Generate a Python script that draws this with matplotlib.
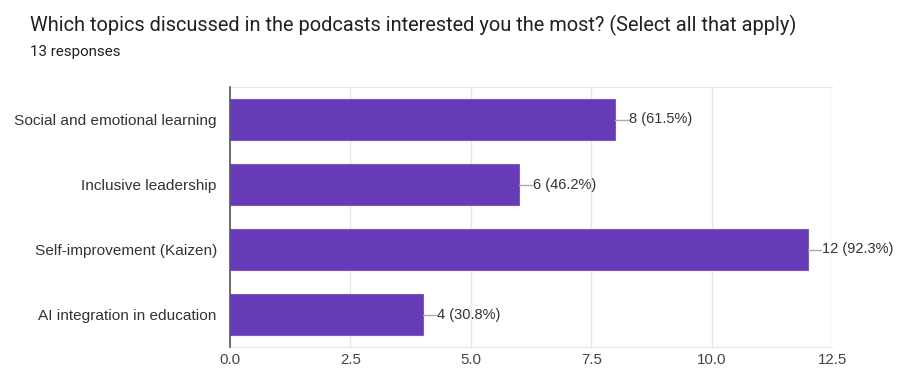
import matplotlib
matplotlib.use("Agg")
import matplotlib.pyplot as plt

categories = ["Social and emotional learning", "Inclusive leadership",
              "Self-improvement (Kaizen)", "AI integration in education"]
counts = [8, 6, 12, 4]
percents = ["61.5%", "46.2%", "92.3%", "30.8%"]
xticks = [0.0, 2.5, 5.0, 7.5, 10.0, 12.5]

plt.rcParams['font.family'] = ['Roboto', 'DejaVu Sans']
LF = ['Liberation Sans', 'DejaVu Sans']

fig = plt.figure(figsize=(8.97, 3.69), dpi=100)
ax = fig.add_axes([230/897, 1-347/369, (832-230)/897, (347-87)/369])

y = list(range(len(categories)))
ax.barh(y, counts, height=0.62, color="#673ab7", edgecolor="#7e57c2", linewidth=0.8, zorder=3)
for yi, c, p in zip(y, counts, percents):
    ax.plot([c, c + 0.28], [yi, yi], color="#aaaaaa", lw=1, zorder=3)
    ax.text(c + 0.29, yi, f"{c} ({p})", va="center", ha="left", fontsize=10.5,
            color="#333333", family=LF)

ax.set_ylim(3.5, -0.5)
ax.set_xlim(0, 12.5)
ax.set_yticks(y)
ax.set_yticklabels(categories, fontsize=11.1, color="#333333", family=LF)
ax.set_xticks(xticks)
ax.set_xticklabels([f"{t:.1f}" for t in xticks], fontsize=10.8, color="#444444", family=LF)
ax.tick_params(axis='x', length=0, pad=4)
ax.tick_params(axis='y', length=0, pad=9.5)
ax.grid(axis='x', color="#e6e6e6", lw=1, zorder=0)
for s in ['top', 'bottom']:
    ax.spines[s].set_color("#e6e6e6")
ax.spines['right'].set_visible(False)
ax.spines['left'].set_color("#555555")
ax.spines['left'].set_linewidth(1.2)
ax.spines['left'].set_zorder(4)

fig.text(30/897, 1-25/369, "Which topics discussed in the podcasts interested you the most? (Select all that apply)",
         fontsize=14.45, color="#202124", va="center", ha="left")
fig.text(30/897, 1-52/369, "13 responses", fontsize=10.9, color="#202124", va="center", ha="left")

fig.savefig("out.png", dpi=100)
